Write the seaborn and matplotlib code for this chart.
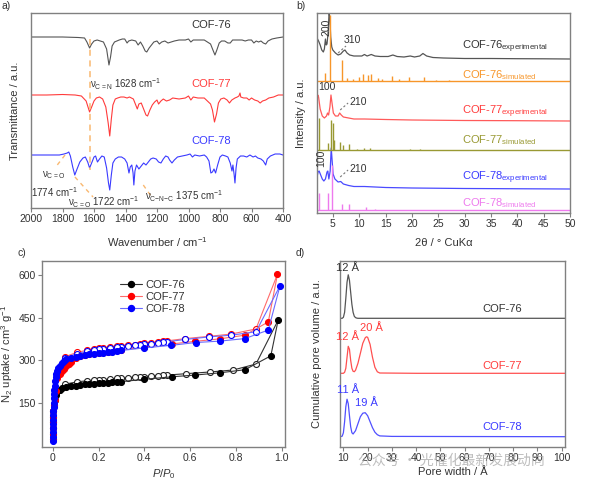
import numpy as np
import matplotlib
matplotlib.use("Agg")
import matplotlib.pyplot as plt
import seaborn as sns
from matplotlib.lines import Line2D

# ---------------- data ----------------
# a) FTIR, transmittance relative to each trace's baseline (a.u.)
ir76_wn = [2000, 1900, 1800, 1700, 1660, 1645, 1628, 1615, 1600, 1580, 1560, 1540, 1520, 1505, 1495,
           1485, 1470, 1440, 1420, 1405, 1390, 1380, 1360, 1335, 1320, 1305, 1290, 1275, 1265, 1250,
           1235, 1220, 1200, 1185, 1170, 1150, 1130, 1110, 1090, 1060, 1020, 1000, 985, 970, 940,
           900, 880, 860, 845, 832, 820, 805, 790, 770, 750, 735, 720, 690, 660, 640, 620, 600,
           585, 570, 555, 540, 525, 510, 495, 470, 440, 400]
ir76_t = [0, 0, 0, -0.5, -1, -5, -11, -7, -4, -3, -4, -5, -12, -28, -20,
          -9, -5, -3, -2, -2, -6, -4, -3, -4, -8, -5, -9, -14, -15, -11,
          -8, -5, -4, -7, -5, -4, -6, -5, -4, -3, -3, -2, -5, -3, -3,
          -3, -5, -7, -13, -18, -13, -6, -4, -4, -6, -6, -3, -3, -3, -4, -3, -3,
          -6, -4, -5, -4, -6, -7, -4, -2, -1, 0]
ir77_wn = [2000, 1900, 1800, 1720, 1680, 1650, 1628, 1615, 1600, 1585, 1565, 1545, 1525, 1510, 1500,
           1490, 1480, 1465, 1450, 1430, 1410, 1390, 1375, 1350, 1335, 1325, 1315, 1300, 1285, 1270,
           1260, 1245, 1230, 1215, 1200, 1190, 1175, 1160, 1140, 1120, 1100, 1060, 1020, 1000, 985,
           970, 940, 900, 880, 860, 848, 835, 822, 810, 795, 775, 755, 740, 725, 705, 690, 680,
           673, 668, 650, 630, 615, 600, 580, 560, 545, 530, 510, 490, 460, 430, 400]
ir77_t = [0, 0, 0.5, 0, -1, -6, -17, -12, -6, -3, -2, -4, -12, -28, -41,
          -24, -10, -4, -3, -2, -2, -3, -2, -4, -10, -14, -9, -8, -14, -20,
          -21, -15, -10, -7, -5, -9, -6, -4, -6, -5, -3, -4, -3, -1, -5,
          -2, -3, -3, -6, -9, -15, -27, -19, -8, -4, -3, -5, -8, -5, -3, -2, -1,
          2, -2, -3, -3, -5, -3, -5, -6, -8, -6, -5, -3, -2, 0, 0]
ir78_wn = [2000, 1900, 1820, 1790, 1770, 1760, 1750, 1735, 1722, 1710, 1690, 1670, 1655, 1640, 1628,
           1615, 1600, 1590, 1578, 1565, 1550, 1535, 1520, 1508, 1500, 1490, 1480, 1465, 1445, 1425,
           1405, 1390, 1378, 1370, 1360, 1352, 1347, 1340, 1330, 1315, 1300, 1285, 1270, 1255, 1240,
           1225, 1205, 1190, 1175, 1160, 1145, 1130, 1120, 1105, 1090, 1070, 1040, 1010, 990, 975,
           960, 930, 900, 885, 870, 858, 848, 838, 828, 815, 800, 785, 765, 750, 735, 724, 718,
           710, 705, 698, 690, 670, 650, 630, 610, 590, 575, 560, 540, 525, 510, 500, 480, 450,
           420, 400]
ir78_t = [-2, -2, -2, -1, 0, 1, -3, -14, -22, -17, -9, -5, -4, -9, -15,
          -10, -4, -3, -9, -6, -3, -4, -15, -30, -37, -22, -10, -6, -4, -4,
          -6, -10, -20, -14, -12, -20, -32, -18, -12, -16, -13, -10, -12, -9, -6,
          -5, -6, -9, -10, -6, -3, -4, -7, -10, -7, -4, -3, -2, -1, -4,
          -2, -3, -2, -4, -8, -20, -19, -16, -20, -12, -4, -2, -3, -4, -10, -18, -12,
          -22, -30, -15, -6, -3, -3, -4, -2, -4, -3, -5, -6, -8, -12, -6, -3, -1,
          -1, -2]
ir_names = ["COF-76", "COF-77", "COF-78"]

# b) PXRD experimental patterns (intensity above baseline, a.u.)
x76e = [2.0, 2.3, 2.6, 2.9, 3.2, 3.4, 3.6, 3.75, 3.9, 4.1, 4.3, 4.45, 4.6, 4.8, 5.0, 5.5, 6.0, 6.5,
        7.0, 7.3, 7.7, 8.2, 9.0, 10.5, 11.0, 11.5, 12.3, 13.0, 14.0, 15.5, 16.4, 17.2, 18.5, 19.7,
        20.5, 21.5, 22.1, 22.8, 24, 26, 30, 35, 40, 45, 50]
y76e = [21, 18, 14, 9, 7, 10, 20, 14, 15, 26, 47, 40, 22, 12, 9, 6, 4, 5,
        8, 9, 6, 4, 3, 3, 4.5, 3, 4.5, 3, 2.5, 2.5, 4, 2.5, 2, 3,
        2, 3, 5.5, 3, 1.5, 1, 0.5, 0.5, 0.3, 0.2, 0]
x77e = [2.0, 2.15, 2.3, 2.6, 3.0, 3.4, 3.8, 4.0, 4.2, 4.45, 4.65, 4.85, 5.1, 5.5, 6.0, 6.3, 6.6,
        7.0, 8, 9, 11, 15, 20, 30, 40, 50]
y77e = [22, 26, 24, 12, 5, 3, 5, 8, 6, 14, 26, 18, 8, 5, 5, 8, 6,
        4, 3, 2, 2, 1.5, 1, 0.5, 0.3, 0]
x78e = [2.0, 2.2, 2.4, 2.7, 3.0, 3.3, 3.6, 3.9, 4.05, 4.25, 4.5, 4.7, 4.85, 5.05, 5.4, 6.0, 6.5,
        7.0, 8, 9, 11, 15, 20, 30, 50]
y78e = [12, 17, 18, 14, 10, 8, 10, 17, 18, 10, 18, 41, 30, 15, 10, 7, 7.5,
        5, 3.5, 2.5, 2.5, 1.5, 1, 0.5, 0]
# simulated patterns as reflections (2theta, intensity)
s76_pos = [3.6, 4.4, 6.8, 7.7, 8.8, 10.0, 10.7, 11.6, 12.2, 13.5, 14.4, 16.3, 17.6, 19.5, 22.3, 24.5, 27.0]
s76_int = [8, 66, 21, 3, 2.5, 4, 7, 6, 7, 3, 2, 5, 2, 4, 4, 1.5, 1]
s77_pos = [2.45, 4.0, 4.6, 4.95, 5.3, 6.4, 7.0, 8.1, 9.5, 11.0, 12.0, 19.6, 21.6]
s77_int = [32, 7, 30, 27, 10, 8, 5, 6, 1.5, 2.5, 2, 1.5, 1.5]
s78_pos = [2.4, 4.0, 4.8, 6.7, 8.0, 11.3, 13.0]
s78_int = [17, 17, 45, 6, 6, 3, 1]

# c) N2 isotherms (P/P0, cm3/g)
a76_p = [0.0004, 0.0007, 0.001, 0.0014, 0.002, 0.003, 0.005, 0.008, 0.012, 0.02, 0.03, 0.04, 0.06,
         0.08, 0.10, 0.12, 0.14, 0.16, 0.18, 0.20, 0.22, 0.24, 0.26, 0.28, 0.30, 0.40, 0.52, 0.62,
         0.73, 0.84, 0.953, 0.985]
a76_v = [20, 40, 60, 80, 100, 120, 140, 160, 178, 190, 196, 200, 204,
         207, 210, 212, 214, 215, 217, 218, 219, 220, 221, 222, 224, 232, 241, 247,
         255, 266, 315, 441]
d76_p = [0.985, 0.888, 0.789, 0.687, 0.583, 0.50, 0.48, 0.46, 0.43, 0.40, 0.38, 0.36, 0.33, 0.30,
         0.28, 0.25, 0.22, 0.20, 0.18, 0.15, 0.105, 0.054]
d76_v = [441, 286, 265, 258, 252, 247, 246, 245, 244, 242, 241, 240, 238, 236,
         235, 233, 231, 230, 229, 227, 223, 215]
a77_p = [0.0004, 0.0007, 0.001, 0.0014, 0.002, 0.003, 0.005, 0.008, 0.012, 0.02, 0.03, 0.04, 0.05,
         0.06, 0.07, 0.08, 0.10, 0.12, 0.14, 0.16, 0.18, 0.20, 0.22, 0.24, 0.26, 0.28, 0.30, 0.40,
         0.52, 0.62, 0.73, 0.84, 0.942, 0.982]
a77_v = [20, 40, 60, 80, 100, 120, 140, 160, 190, 235, 250, 260, 268,
         278, 286, 294, 306, 314, 318, 321, 324, 326, 328, 330, 332, 334, 336, 346,
         357, 366, 375, 388, 435, 603]
d77_p = [0.982, 0.888, 0.78, 0.684, 0.58, 0.50, 0.48, 0.46, 0.43, 0.40, 0.38, 0.36, 0.33, 0.30,
         0.28, 0.25, 0.22, 0.20, 0.18, 0.15, 0.105, 0.054]
d77_v = [603, 410, 392, 384, 376, 368, 366, 364, 361, 359, 357, 355, 353, 350,
         348, 345, 343, 341, 339, 335, 327, 312]
a78_p = [0.0004, 0.0007, 0.001, 0.0013, 0.0017, 0.002, 0.0025, 0.003, 0.0035, 0.004, 0.005, 0.006,
         0.007, 0.008, 0.01, 0.013, 0.016, 0.02, 0.025, 0.03, 0.04, 0.05, 0.06, 0.08, 0.10, 0.12,
         0.14, 0.16, 0.18, 0.20, 0.22, 0.24, 0.26, 0.28, 0.30, 0.40, 0.517, 0.624, 0.73, 0.84,
         0.942, 0.993]
a78_v = [15, 30, 45, 60, 75, 90, 105, 120, 135, 150, 165, 180,
         195, 210, 225, 240, 252, 262, 272, 280, 290, 298, 303, 308, 312, 315,
         318, 320, 322, 324, 326, 328, 330, 332, 334, 343, 352, 362, 367, 376,
         406, 562]
d78_p = [0.993, 0.888, 0.78, 0.684, 0.58, 0.50, 0.48, 0.46, 0.43, 0.40, 0.38, 0.36, 0.33, 0.30,
         0.28, 0.25, 0.22, 0.20, 0.18, 0.15, 0.105, 0.054]
d78_v = [562, 400, 388, 382, 373, 365, 363, 361, 358, 356, 354, 352, 350, 347,
         345, 342, 340, 338, 335, 331, 323, 308]

# d) pore size distributions (pore width / A, a.u.)
w76 = [8.6, 9.5, 10.0, 10.5, 11.0, 11.5, 12.0, 12.5, 13.0, 13.5, 14.0, 14.5, 15.0, 15.5, 16, 30, 60, 101.4]
p76 = [0, 0, 1, 6, 20, 36, 43.5, 38, 26, 14, 6, 2, 0.7, 0.2, 0, 0, 0, 0]
w77 = [8.6, 10, 10.5, 11, 11.5, 12, 12.5, 13, 13.5, 14, 14.5, 15, 16, 17, 18, 19, 19.5, 20, 21,
       22, 23, 24, 25, 40, 101.4]
p77 = [0, 0, 1, 5, 16, 27, 24, 13, 5, 2, 1.6, 3, 10, 20, 30, 35.5, 36.5, 36, 29,
       16, 6, 1.5, 0.3, 0, 0]
w78 = [8.6, 9.5, 10, 10.5, 11, 11.5, 12, 12.5, 13, 13.5, 14, 15, 16, 17, 18, 19, 20, 21, 22, 23,
       24, 25, 30, 101.4]
p78 = [0, 0.5, 4, 15, 30, 37.5, 33, 21, 10, 4, 2.7, 6, 13, 20, 23.5, 24, 21, 15, 9, 4.5,
       2, 0.8, 0.3, 0]

# ---------------- style ----------------
sns.set_style("ticks")
plt.rcParams["font.family"] = ["Liberation Sans", "DejaVu Sans"]
plt.rcParams["mathtext.fontset"] = "custom"
plt.rcParams["mathtext.rm"] = "Liberation Sans"
plt.rcParams["mathtext.it"] = "Liberation Sans:italic"
plt.rcParams["axes.edgecolor"] = "#808080"
plt.rcParams["axes.linewidth"] = 1.0
plt.rcParams["xtick.color"] = "#808080"
plt.rcParams["ytick.color"] = "#808080"
plt.rcParams["xtick.labelcolor"] = "#333333"
plt.rcParams["ytick.labelcolor"] = "#333333"
plt.rcParams["xtick.major.size"] = 3
plt.rcParams["ytick.major.size"] = 3
plt.rcParams["xtick.major.pad"] = 1.5
plt.rcParams["ytick.major.pad"] = 1.5
plt.rcParams["xtick.labelsize"] = 7.5
plt.rcParams["ytick.labelsize"] = 7.5

GRAY = "#555555"
RED = "#ff3b3b"
BLUE = "#3a3aff"
ORANGE = "#f7962a"
OLIVE = "#999933"
VIOLET = "#ee7aee"
DASH = "#f9b870"

W, H = 595, 484
fig = plt.figure(figsize=(W / 100, H / 100), dpi=100)


def px_axes(l, r, t, b):
    return fig.add_axes([l / W, 1 - b / H, (r - l) / W, (b - t) / H])


def trace(ax, x, y, offset, color, lw=0.9):
    sns.lineplot(x=np.asarray(x), y=np.asarray(y) + offset, color=color, lw=lw,
                 sort=False, estimator=None, legend=False, ax=ax)


LABEL_FS = 8

# ---------------- a) FTIR ----------------
ax = px_axes(31, 283, 13, 208)
ax.set_xlim(2000, 400)
ax.set_ylim(0, 195)
ir_offsets = [171, 113, 55]
for wn, t, off, c in zip([ir76_wn, ir77_wn, ir78_wn], [ir76_t, ir77_t, ir78_t], ir_offsets, [GRAY, RED, BLUE]):
    trace(ax, wn, t, off, c, lw=0.8)
ax.set_xticks(range(2000, 399, -200))
ax.set_yticks([])
ax.set_xlabel("Wavenumber / cm$^{-1}$", fontsize=LABEL_FS, color="#333333")
ax.set_ylabel("Transmittance / a.u.", fontsize=LABEL_FS, color="#333333")
ax.xaxis.set_label_coords(0.5, -0.14)
ax.yaxis.set_label_coords(-0.045, 0.5)
ax.plot([1628, 1628], [169, 38], ls=(0, (4, 3)), color=DASH, lw=1.1)
ax.plot([1784, 1848], [53, 40], ls=(0, (3, 3)), color=DASH, lw=1.0)
ax.plot([1721, 1606], [31, 11], ls=(0, (3, 3)), color=DASH, lw=1.0)
ax.plot([1287, 1234], [23, 11], ls=(0, (3, 3)), color=DASH, lw=1.0)
for name, y, c in zip(ir_names, [183, 124, 67], ["#333333", RED, BLUE]):
    ax.text(857, y, name, color=c, fontsize=8, ha="center", va="center")
ax.text(1625, 124, "ν$_{\\mathregular{C{=}N}}$ 1628 cm$^{-1}$", fontsize=7, color="#333333", ha="left", va="center")
ax.text(1854, 33, "ν$_{\\mathregular{C{=}O}}$", fontsize=7, color="#333333", ha="center", va="center")
ax.text(1848, 16, "1774 cm$^{-1}$", fontsize=7, color="#333333", ha="center", va="center")
ax.text(1537, 6, "ν$_{\\mathregular{C{=}O}}$ 1722 cm$^{-1}$", fontsize=7, color="#333333", ha="center", va="center")
ax.text(1029, 12, "ν$_{\\mathregular{C{-}N{-}C}}$ 1375 cm$^{-1}$", fontsize=7, color="#333333", ha="center", va="center")

# ---------------- b) PXRD ----------------
ax = px_axes(317, 570, 13, 213)
ax.set_xlim(2, 50)
ax.set_ylim(0, 200)
trace(ax, x76e, y76e, 154, GRAY)
trace(ax, x77e, y77e, 92, "#ff5a5a")
trace(ax, x78e, y78e, 24, "#4a4aff")
for pos, inten, base, c in [(s76_pos, s76_int, 132, ORANGE), (s77_pos, s77_int, 63, OLIVE),
                            (s78_pos, s78_int, 3, VIOLET)]:
    ax.hlines(base, 2, 50, color=c, lw=1.0)
    ax.vlines(pos, base, np.asarray(inten) + base, color=c, lw=1.0)
ax.set_xticks(range(5, 51, 5))
ax.set_yticks([])
ax.set_xlabel("2θ / ° CuKα", fontsize=LABEL_FS, color="#333333")
ax.set_ylabel("Intensity / a.u.", fontsize=LABEL_FS, color="#333333")
ax.xaxis.set_label_coords(0.5, -0.125)
ax.yaxis.set_label_coords(-0.045, 0.5)
ax.text(3.7, 186, "200", rotation=90, fontsize=7.5, color="#333333", ha="center", va="center")
ax.text(8.8, 173, "310", fontsize=7.5, color="#333333", ha="center", va="center")
ax.text(3.9, 126, "100", fontsize=7.5, color="#333333", ha="center", va="center")
ax.text(9.8, 111, "210", fontsize=7.5, color="#333333", ha="center", va="center")
ax.text(2.75, 55, "100", rotation=90, fontsize=7.5, color="#333333", ha="center", va="center")
ax.text(9.8, 44, "210", fontsize=7.5, color="#333333", ha="center", va="center")
for (x0, x1, y0, y1) in [(6.0, 7.5, 160, 167), (6.4, 7.9, 103, 110), (6.4, 7.9, 36, 43)]:
    ax.plot([x0, x1], [y0, y1], ls=(0, (2, 2)), color="#777777", lw=0.8)
xrd_labels = [("COF-76", "experimental", 166, "#333333"), ("COF-76", "simulated", 138, ORANGE),
              ("COF-77", "experimental", 101, RED), ("COF-77", "simulated", 73, OLIVE),
              ("COF-78", "experimental", 35, BLUE), ("COF-78", "simulated", 10, VIOLET)]
for name, sub, y, c in xrd_labels:
    ax.text(29.5, y, name + "$_{\\mathregular{" + sub + "}}$", fontsize=8, color=c, ha="left", va="center")

# ---------------- c) isotherms ----------------
ax = px_axes(42, 285, 261, 447)
ax.set_xlim(-0.047, 1.015)
ax.set_ylim(-7, 650)
iso = [(a76_p, a76_v, d76_p, d76_v, "#333333", "#000000"),
       (a77_p, a77_v, d77_p, d77_v, "#ff6a6a", "#ff0000"),
       (a78_p, a78_v, d78_p, d78_v, "#6a6aff", "#0000ff")]
for ap, av, dp, dv, lc, mc in iso:
    # desorption branch (open circles), its first point is the shared filled top point
    sns.lineplot(x=dp, y=dv, color=lc, lw=0.8, marker="o", markersize=4.3, markerfacecolor="white",
                 markeredgecolor=mc if mc != "#000000" else "#222222", markeredgewidth=0.8,
                 markevery=list(range(1, len(dp))), sort=False, estimator=None, legend=False, ax=ax)
    sns.lineplot(x=ap, y=av, color=lc, lw=0.8, marker="o", markersize=4.3, markerfacecolor=mc,
                 markeredgecolor=mc, markeredgewidth=0.8, sort=False, estimator=None, legend=False, ax=ax)
ax.set_xticks([0, 0.2, 0.4, 0.6, 0.8, 1.0])
ax.set_xticklabels(["0", "0.2", "0.4", "0.6", "0.8", "1.0"])
ax.set_yticks([150, 300, 450, 600])
ax.set_xlabel("$\\it{P/P}_\\mathregular{0}$", fontsize=LABEL_FS, color="#333333")
ax.set_ylabel("N$_2$ uptake / cm$^3$ g$^{-1}$", fontsize=LABEL_FS, color="#333333")
ax.xaxis.set_label_coords(0.5, -0.11)
ax.yaxis.set_label_coords(-0.11, 0.5)
handles = [Line2D([0], [0], color=lc, lw=0.8, marker="o", ms=4.3, mfc=mc, mec=mc)
           for _, _, _, _, lc, mc in iso]
ax.legend(handles, ir_names, loc="upper left", bbox_to_anchor=(0.3, 0.93), frameon=False,
          fontsize=8, handlelength=1.9, handletextpad=0.3, labelspacing=0.2, borderpad=0,
          labelcolor="#333333")

# ---------------- d) pore size distribution ----------------
ax = px_axes(340, 565, 261, 447)
ax.set_xlim(8.6, 101.4)
ax.set_ylim(0, 186)
trace(ax, w76, p76, 128.7, GRAY)
trace(ax, w77, p77, 73.7, "#ff5050")
trace(ax, w78, p78, 10.3, "#5050ff")
ax.set_xticks(range(10, 101, 10))
ax.set_yticks([])
ax.set_xlabel("Pore width / Å", fontsize=LABEL_FS, color="#333333")
ax.set_ylabel("Cumulative pore volume / a.u.", fontsize=LABEL_FS, color="#333333")
ax.xaxis.set_label_coords(0.5, -0.11)
ax.yaxis.set_label_coords(-0.08, 0.5)
for x, y, s, c in [(11.8, 178.7, "12 Å", "#333333"), (21.4, 118.7, "20 Å", RED), (11.8, 109.7, "12 Å", RED),
                   (11.8, 57, "11 Å", BLUE), (19.4, 43.7, "19 Å", BLUE)]:
    ax.text(x, y, s, fontsize=8, color=c, ha="center", va="center")
for name, y, c in zip(ir_names, [138, 81, 19.7], ["#333333", RED, BLUE]):
    ax.text(75.4, y, name, fontsize=8, color=c, ha="center", va="center")

# ---------------- panel letters and watermark ----------------
for s, x, y in [("a)", 2, 6), ("b)", 296, 6), ("c)", 17, 253), ("d)", 296, 253)]:
    fig.text(x / W, 1 - y / H, s, fontsize=7.5, color="#333333", ha="left", va="center")
fig.text(358 / W, 1 - 461 / H, "公众号 · 光催化最新发展动向", fontsize=10, color="#a8a8a8", alpha=0.75,
         ha="left", va="center", family=["Noto Sans CJK SC", "DejaVu Sans"])

fig.savefig("out.png", dpi=100)
